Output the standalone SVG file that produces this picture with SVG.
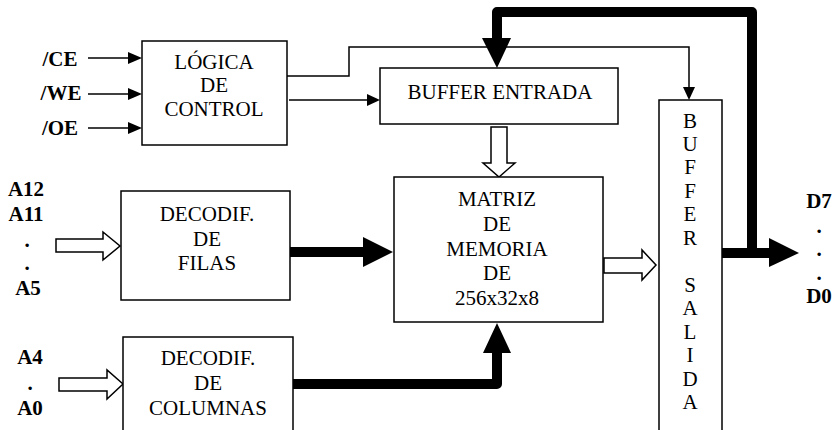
<svg xmlns="http://www.w3.org/2000/svg" width="833" height="430" viewBox="0 0 833 430">
<style>
.box{fill:#fff;stroke:#000;stroke-width:1.5}
.t{font-size:21px;text-anchor:middle;fill:#000}
.b{font-size:21px;font-weight:bold;text-anchor:middle;fill:#000}
.thin{fill:none;stroke:#000;stroke-width:1.5}
.bus{fill:none;stroke:#000;stroke-width:10;stroke-linejoin:round}
.hollow{fill:#fff;stroke:#000;stroke-width:1.5;stroke-linejoin:miter}
.head{fill:#000;stroke:none}
</style>
<rect width="833" height="430" fill="#fff"/>
<g id="connectors">
  <line class="thin" x1="88" y1="58" x2="130" y2="58"/>
  <polygon class="head" points="128,52 142,58 128,64"/>
  <line class="thin" x1="88" y1="94" x2="130" y2="94"/>
  <polygon class="head" points="128,88 142,94 128,100"/>
  <line class="thin" x1="88" y1="128" x2="130" y2="128"/>
  <polygon class="head" points="128,122 142,128 128,134"/>
  <line class="thin" x1="289" y1="100" x2="368" y2="100"/>
  <polygon class="head" points="367,94 380,100 367,106"/>
  <path class="thin" d="M287,76 H349 V47 H689 V88"/>
  <polygon class="head" points="683,87 695,87 689,100"/>
  <path class="bus" d="M722,253 H770"/>
  <polygon class="head" points="769,238 799,253 769,267"/>
  <path class="bus" d="M752,253 V12 H497 V40"/>
  <polygon class="head" points="482,38 511,38 497,68"/>
  <path class="bus" d="M290,252 H364"/>
  <polygon class="head" points="363,237 393,252 363,267"/>
  <path class="bus" d="M293,384 H497 V352"/>
  <polygon class="head" points="483,353 511,353 497,323"/>
  <polygon class="hollow" points="56,239 103,239 103,232 120,246 103,260 103,252 56,252"/>
  <polygon class="hollow" points="59,378 107,378 107,370 123,384 107,399 107,391 59,391"/>
  <polygon class="hollow" points="491,127 507,127 507,163 515,163 499,177 483,163 491,163"/>
  <polygon class="hollow" points="604,258 642,258 642,250 656,265 642,280 642,273 604,273"/>
</g>
<g id="labels" font-family="Liberation Serif, Times New Roman, DejaVu Serif, serif">
  <text class="b" x="60" y="66">/CE</text>
  <text class="b" x="61" y="100">/WE</text>
  <text class="b" x="60" y="135">/OE</text>
  <text class="b" x="26" y="196">A12</text>
  <text class="b" x="26" y="221">A11</text>
  <text class="b" x="27" y="247">.</text>
  <text class="b" x="27" y="270">.</text>
  <text class="b" x="28" y="295">A5</text>
  <text class="b" x="30" y="364">A4</text>
  <text class="b" x="30" y="390">.</text>
  <text class="b" x="30" y="415">A0</text>
  <text class="b" x="819" y="208">D7</text>
  <text class="b" x="819" y="233">.</text>
  <text class="b" x="819" y="256">.</text>
  <text class="b" x="819" y="280">.</text>
  <text class="b" x="819" y="303">D0</text>
</g>
<g id="logica" font-family="Liberation Serif, Times New Roman, DejaVu Serif, serif">
  <rect class="box" x="142" y="41" width="145" height="104"/>
  <text class="t" x="214" y="69">LÓGICA</text>
  <text class="t" x="214" y="92">DE</text>
  <text class="t" x="214" y="116">CONTROL</text>
</g>
<g id="buffer-entrada" font-family="Liberation Serif, Times New Roman, DejaVu Serif, serif">
  <rect class="box" x="380" y="68" width="238" height="56"/>
  <text class="t" x="500" y="99">BUFFER ENTRADA</text>
</g>
<g id="matriz" font-family="Liberation Serif, Times New Roman, DejaVu Serif, serif">
  <rect class="box" x="394" y="177" width="209" height="145"/>
  <text class="t" x="497" y="206">MATRIZ</text>
  <text class="t" x="497" y="231">DE</text>
  <text class="t" x="497" y="256">MEMORIA</text>
  <text class="t" x="497" y="280">DE</text>
  <text class="t" x="497" y="305">256x32x8</text>
</g>
<g id="decod-filas" font-family="Liberation Serif, Times New Roman, DejaVu Serif, serif">
  <rect class="box" x="121" y="191" width="169" height="109"/>
  <text class="t" x="207" y="221">DECODIF.</text>
  <text class="t" x="207" y="246">DE</text>
  <text class="t" x="207" y="270">FILAS</text>
</g>
<g id="decod-columnas" font-family="Liberation Serif, Times New Roman, DejaVu Serif, serif">
  <rect class="box" x="123" y="337" width="170" height="110"/>
  <text class="t" x="208" y="365">DECODIF.</text>
  <text class="t" x="208" y="390">DE</text>
  <text class="t" x="208" y="415">COLUMNAS</text>
</g>
<g id="buffer-salida" font-family="Liberation Serif, Times New Roman, DejaVu Serif, serif">
  <rect class="box" x="659" y="100" width="63" height="345"/>
  <text class="t" x="690" y="128">B</text>
  <text class="t" x="690" y="151">U</text>
  <text class="t" x="690" y="174">F</text>
  <text class="t" x="690" y="198">F</text>
  <text class="t" x="690" y="221">E</text>
  <text class="t" x="690" y="245">R</text>
  <text class="t" x="690" y="292">S</text>
  <text class="t" x="690" y="315">A</text>
  <text class="t" x="690" y="339">L</text>
  <text class="t" x="690" y="362">I</text>
  <text class="t" x="690" y="386">D</text>
  <text class="t" x="690" y="409">A</text>
</g>
</svg>
